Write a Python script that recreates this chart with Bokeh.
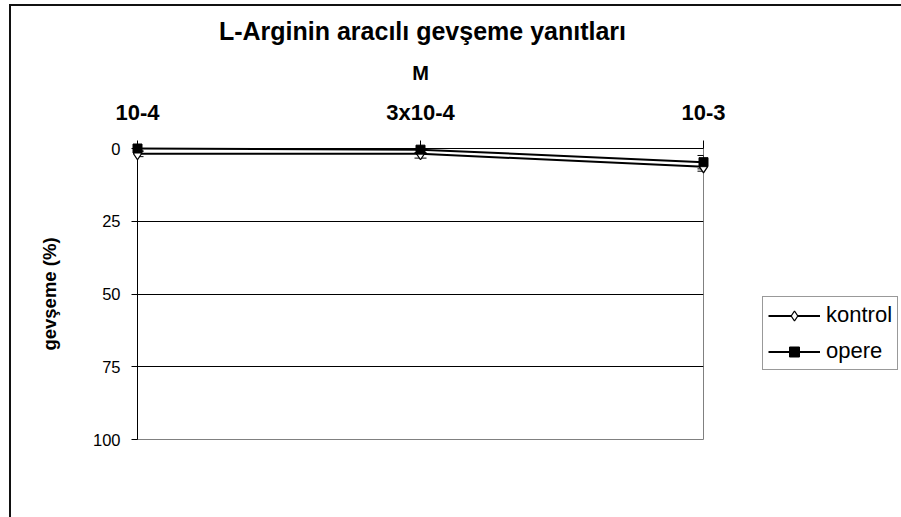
import numpy as np
from bokeh.plotting import figure
from bokeh.models import (Range1d, FixedTicker, Legend, LegendItem, Whisker,
                          TeeHead, ColumnDataSource)
from bokeh.core.properties import value
from bokeh.embed import file_html
from bokeh.resources import INLINE

# Doses (M) and mean relaxation responses (%) with their error values
doses = ["10-4", "3x10-4", "10-3"]
dose_pos = [0, 1, 2]
kontrol = [1.8, 1.8, 6.3]
kontrol_err = [1.0, 1.5, 1.5]
opere = [0.0, 0.4, 4.7]
opere_err = [1.0, 1.0, 2.3]
y_ticks = [0, 25, 50, 75, 100]
chart_title = "L-Arginin aracılı gevşeme yanıtları"

FONT = "Liberation Sans"

p = figure(frame_width=566, frame_height=291,
           min_border_left=126, min_border_top=142,
           min_border_right=198, min_border_bottom=78,
           x_range=Range1d(0, 2), y_range=Range1d(100, 0),
           x_axis_location="above",
           output_backend="svg", toolbar_location=None)

# chart-area frame: border on the left and top of the whole chart
p.styles = {"margin-left": "9px", "margin-top": "4px",
            "border-left": "2px solid #111", "border-top": "2px solid #111"}

p.outline_line_color = "#808080"
p.outline_line_width = 1

# title drawn above the category axis, centred over the plot area
p.text(x=[1.007], y=[-40.5], text=[chart_title],
       text_align="center", text_baseline="middle",
       text_font=value(FONT), text_font_style="bold",
       text_font_size="25px", text_color="black", level="overlay")

# category axis on top
xa = p.xaxis[0]
xa.ticker = FixedTicker(ticks=dose_pos)
xa.major_label_overrides = {pos: lab for pos, lab in zip(dose_pos, doses)}
xa.axis_label = "M"
xa.axis_label_text_font = FONT
xa.axis_label_text_font_style = "bold"
xa.axis_label_text_font_size = "20px"
xa.axis_label_text_color = "black"
xa.axis_label_standoff = 13
xa.major_label_text_font = FONT
xa.major_label_text_font_style = "bold"
xa.major_label_text_font_size = "22px"
xa.major_label_text_color = "black"
xa.major_label_standoff = 16
xa.major_tick_out = 8
xa.major_tick_in = 0
xa.minor_tick_out = 0
xa.minor_tick_in = 0
xa.axis_line_color = "black"
xa.major_tick_line_color = "black"

# value axis, reversed (0 at top)
ya = p.yaxis[0]
ya.ticker = FixedTicker(ticks=y_ticks)
ya.axis_label = "gevşeme (%)"
ya.axis_label_text_font = FONT
ya.axis_label_text_font_style = "bold"
ya.axis_label_text_font_size = "18.5px"
ya.axis_label_text_color = "black"
ya.axis_label_standoff = 30
ya.major_label_text_font = FONT
ya.major_label_text_font_size = "16.5px"
ya.major_label_text_color = "black"
ya.major_label_standoff = 11
ya.major_tick_out = 6
ya.major_tick_in = 0
ya.minor_tick_out = 0
ya.minor_tick_in = 0
ya.axis_line_color = "black"
ya.major_tick_line_color = "black"

p.xgrid.grid_line_color = None
p.ygrid.ticker = FixedTicker(ticks=y_ticks)
p.ygrid.grid_line_color = "black"
p.ygrid.grid_line_width = 1

src_k = ColumnDataSource(dict(
    x=dose_pos, y=kontrol,
    lo=[v + e for v, e in zip(kontrol, kontrol_err)],
    hi=[v - e for v, e in zip(kontrol, kontrol_err)]))
src_o = ColumnDataSource(dict(
    x=dose_pos, y=opere,
    lo=[v + e for v, e in zip(opere, opere_err)],
    hi=[v - e for v, e in zip(opere, opere_err)]))

for src in (src_k, src_o):
    w = Whisker(source=src, base="x", upper="hi", lower="lo",
                dimension="height", line_color="black", line_width=1,
                upper_head=TeeHead(size=12, line_color="black"),
                lower_head=TeeHead(size=12, line_color="black"),
                level="annotation")
    p.add_layout(w)

k_line = p.line("x", "y", source=src_k, line_color="black", line_width=2,
                level="overlay")
k_pts = p.scatter("x", "y", source=src_k, marker="diamond", size=12,
                  fill_color="white", line_color="black",
                  line_width=1.3, level="overlay")
o_line = p.line("x", "y", source=src_o, line_color="black", line_width=2,
                level="overlay")
o_pts = p.scatter("x", "y", source=src_o, marker="square", size=9,
                  fill_color="black", line_color="black", level="overlay")

legend = Legend(items=[LegendItem(label="kontrol", renderers=[k_line, k_pts]),
                       LegendItem(label="opere", renderers=[o_line, o_pts])],
                location=(59, 69), orientation="vertical")
legend.border_line_color = "#333333"
legend.border_line_width = 1
legend.background_fill_color = "white"
legend.label_text_font = FONT
legend.label_text_font_size = "22px"
legend.label_text_color = "black"
legend.glyph_width = 52
legend.glyph_height = 25
legend.label_height = 25
legend.label_standoff = 6
legend.spacing = 10
legend.padding = 5
legend.margin = 0
p.add_layout(legend, "right")

open("out.html", "w").write(file_html(p, INLINE))
